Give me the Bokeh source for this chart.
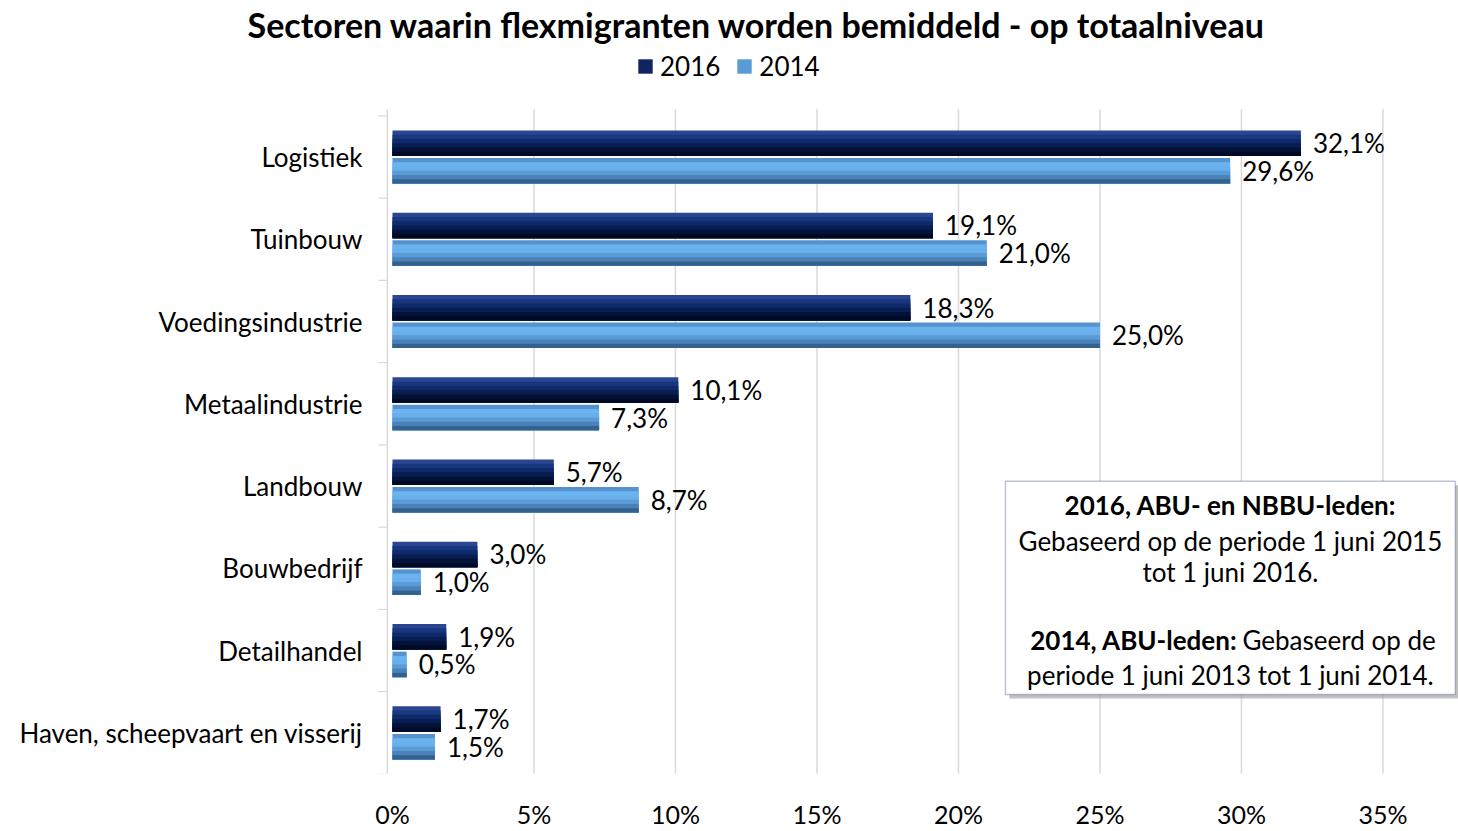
import numpy as np
from bokeh.plotting import figure
from bokeh.models import (Range1d, FixedTicker, Label, Legend, LegendItem,
                          BoxAnnotation, ColumnDataSource)
from bokeh.core.properties import value
from bokeh.embed import file_html
from bokeh.resources import INLINE

# ---------------- data ----------------
categories = ["Logistiek", "Tuinbouw", "Voedingsindustrie", "Metaalindustrie",
              "Landbouw", "Bouwbedrijf", "Detailhandel",
              "Haven, scheepvaart en visserij"]
values_2016 = [32.1, 19.1, 18.3, 10.1, 5.7, 3.0, 1.9, 1.7]
values_2014 = [29.6, 21.0, 25.0, 7.3, 8.7, 1.0, 0.5, 1.5]
series_names = ["2016", "2014"]
x_ticks = [0, 5, 10, 15, 20, 25, 30, 35]
x_tick_labels = ["0%", "5%", "10%", "15%", "20%", "25%", "30%", "35%"]

title_text = "Sectoren waarin flexmigranten worden bemiddeld - op totaalniveau"
note_lines = [
    ("2016, ABU- en NBBU-leden:", None, "bold"),
    ("Gebaseerd op de periode 1 juni 2015", None, "normal"),
    ("tot 1 juni 2016.", None, "normal"),
    ("2014, ABU-leden:", "Gebaseerd op de", "mixed"),
    ("periode 1 juni 2013 tot 1 juni 2014.", None, "normal"),
]

FONT = "Lato"
FS = "26px"
DARK = "#0f2461"
LIGHT = "#5b9bd5"
GRID = "#d9d9d9"
dark_stripes = ["#2a4690", "#18377f", "#0e2a6b", "#081d52", "#031238", "#010a24"]
light_stripes = ["#5592cf", "#6cb4f0", "#69afeb", "#5a9bd6", "#4a82b8", "#33628f"]

n = len(categories)
centers = np.arange(n, 0, -1).astype(float)  # top category -> highest y
BAR_H = 0.31
OFF = 0.168

p = figure(width=1458, height=831, output_backend="svg", toolbar_location=None,
           x_range=Range1d(-13.852, 37.67), y_range=Range1d(0.506, 9.902),
           min_border_left=0, min_border_right=0, min_border_top=0,
           min_border_bottom=48)
p.outline_line_color = None
p.background_fill_color = "white"
p.border_fill_color = "white"
p.xgrid.grid_line_color = None
p.ygrid.grid_line_color = None
p.yaxis.visible = False

# gridlines (drawn only over the category area)
g_top = centers.max() + 0.5 + 0.08
g_bot = centers.min() - 0.5 - 0.04
p.segment(x0=x_ticks[1:], x1=x_ticks[1:], y0=g_bot, y1=g_top,
          line_color=GRID, line_width=1.5)
# category axis wall line and small category separators
p.segment(x0=[-0.18], x1=[-0.18], y0=g_bot, y1=g_top, line_color=GRID, line_width=1.5)
bounds = np.append(centers + 0.5, centers.min() - 0.5)
p.segment(x0=-0.5, x1=-0.18, y0=bounds, y1=bounds, line_color=GRID, line_width=1.2)

# value axis
p.xaxis.ticker = FixedTicker(ticks=x_ticks)
p.xaxis.major_label_overrides = {t: l for t, l in zip(x_ticks, x_tick_labels)}
p.xaxis.axis_line_color = None
p.xaxis.major_tick_line_color = None
p.xaxis.minor_tick_line_color = None
p.xaxis.major_label_text_font = FONT
p.xaxis.major_label_text_font_size = "25px"
p.xaxis.major_label_text_color = "#000000"
p.xaxis.major_label_standoff = 19

# category labels
cat_src = ColumnDataSource(dict(x=np.zeros(n), y=centers, t=categories))
p.text(x="x", y="y", text="t", source=cat_src, x_offset=-30,
       text_font=value(FONT), text_font_size=FS, text_baseline="middle",
       text_align="right", text_color="#000000")


def draw_series(vals, offset, stripes):
    k = len(stripes)
    sh = BAR_H / k
    top = centers + offset + BAR_H / 2
    bottom = centers + offset - BAR_H / 2
    for i, col in enumerate(stripes):
        t = top - i * sh
        p.hbar(y=(t + bottom) / 2, left=0, right=np.array(vals), height=t - bottom,
               fill_color=col, line_color=None)


draw_series(values_2016, OFF, dark_stripes)
draw_series(values_2014, -OFF, light_stripes)

# legend proxies (zero-length bars carrying the legend colours)
leg16 = p.hbar(y=[centers[0]], left=[0], right=[0], height=0.3,
               fill_color=DARK, line_color=None)
leg14 = p.hbar(y=[centers[0]], left=[0], right=[0], height=0.3,
               fill_color=LIGHT, line_color=None)

# value labels
def fmt(v):
    return f"{v:.1f}".replace(".", ",") + "%"

for vals, offset in ((values_2016, OFF), (values_2014, -OFF)):
    src = ColumnDataSource(dict(x=vals, y=centers + offset,
                                t=[fmt(v) for v in vals]))
    p.text(x="x", y="y", text="t", source=src, x_offset=12,
           text_font=value(FONT), text_font_size=FS,
           text_baseline="middle", text_align="left", text_color="#000000")

# title
p.add_layout(Label(x=12.86, y=9.614, text=title_text, text_font=FONT,
                   text_font_size="34px", text_font_style="bold",
                   text_align="center", text_baseline="middle",
                   text_color="#000000"))

# legend
legend = Legend(items=[LegendItem(label=series_names[0], renderers=[leg16]),
                       LegendItem(label=series_names[1], renderers=[leg14])],
                orientation="horizontal", location=(636, 691),
                label_text_font=FONT, label_text_font_size=FS,
                label_text_color="#000000", glyph_width=18, glyph_height=18,
                label_standoff=6, spacing=15, padding=0, margin=0,
                border_line_color=None, background_fill_alpha=0)
p.add_layout(legend, "center")

# note box (shadow + box)
p.add_layout(BoxAnnotation(left=21.80, right=37.70, top=4.01, bottom=1.418,
                           fill_color="#9a9a9a", fill_alpha=0.6, line_color=None))
p.add_layout(BoxAnnotation(left=21.66, right=37.56, top=4.058, bottom=1.466,
                           fill_color="white", fill_alpha=1.0,
                           line_color="#1f3470", line_width=1.5))

box_cx = 29.61
line_ys = [3.770, 3.338, 2.954, 2.126, 1.706]
for (txt, extra, style), ly in zip(note_lines, line_ys):
    if style != "mixed":
        p.add_layout(Label(x=box_cx, y=ly, text=txt, text_font=FONT,
                           text_font_size=FS, text_font_style=style,
                           text_align="center", text_baseline="middle",
                           text_color="#000000"))
    else:
        p.add_layout(Label(x=29.86, y=ly, text=txt, text_font=FONT,
                           text_font_size=FS, text_font_style="bold",
                           text_align="right", text_baseline="middle",
                           text_color="#000000"))
        p.add_layout(Label(x=29.86, y=ly, x_offset=5, text=extra, text_font=FONT,
                           text_font_size=FS, text_font_style="normal",
                           text_align="left", text_baseline="middle",
                           text_color="#000000"))

open("out.html", "w").write(file_html(p, INLINE))
